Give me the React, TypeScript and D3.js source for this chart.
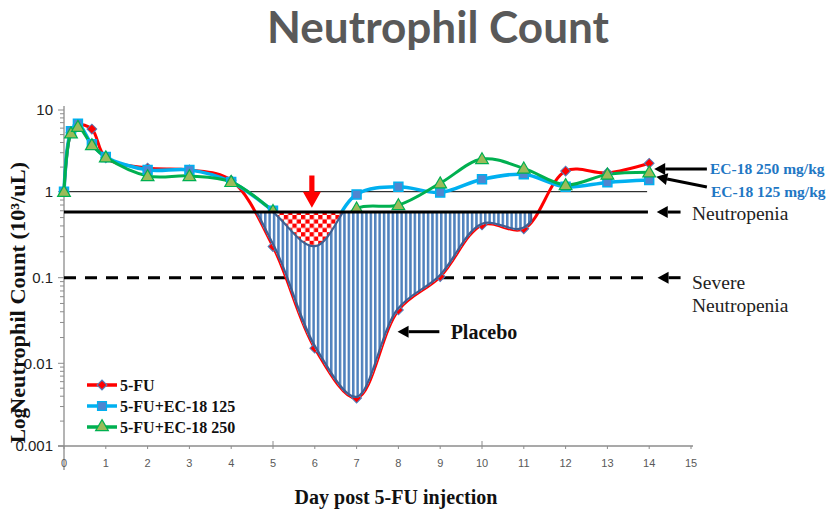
import React from 'react';
import * as d3 from 'd3';

// ---- data ----
const days = [0, 0.167, 0.333, 0.667, 1, 2, 3, 4, 5, 6, 7, 8, 9, 10, 11, 12, 13, 14];
const fu = [1.0, 5.3, 6.6, 5.85, 2.6, 1.95, 1.85, 1.38, 0.23, 0.015, 0.0038, 0.042, 0.103, 0.41, 0.37, 1.79, 1.7, 2.23];
const ec125 = [1.0, 5.5, 6.8, 3.8, 2.66, 1.85, 1.85, 1.32, 0.6, 0.24, 0.93, 1.15, 0.98, 1.42, 1.63, 1.15, 1.3, 1.39];
const ec250 = [1.0, 5.2, 6.25, 3.73, 2.64, 1.56, 1.56, 1.32, 0.6, 0.24, 0.64, 0.7, 1.27, 2.51, 1.93, 1.21, 1.63, 1.73];

const yTickValues = [0.001, 0.01, 0.1, 1, 10];
const yTickLabels = ['0.001', '0.01', '0.1', '1', '10'];
const xTickValues = [0, 1, 2, 3, 4, 5, 6, 7, 8, 9, 10, 11, 12, 13, 14, 15];
const legendLabels = ['5-FU', '5-FU+EC-18 125', '5-FU+EC-18 250'];

const referenceLevel = 1;
const neutropeniaLevel = 0.58;
const severeLevel = 0.1;

const W = 828;
const H = 515;

const RED = '#ff0000';
const CYAN = '#00b0f0';
const GREEN = '#00b050';
const OUTLINE = '#3e5f92';
const HATCH = '#4f81bd';
const SERIF = '"Liberation Serif", "Times New Roman", serif';
const SANS = '"Liberation Sans", Arial, sans-serif';

function Arrow({ x1, y1, x2, y2, w = 3, hl = 11, hw = 6 }: any) {
  const ang = Math.atan2(y2 - y1, x2 - x1);
  const bx = x2 - hl * Math.cos(ang);
  const by = y2 - hl * Math.sin(ang);
  const px = -Math.sin(ang);
  const py = Math.cos(ang);
  return (
    <g>
      <line x1={x1} y1={y1} x2={bx} y2={by} stroke="#000" strokeWidth={w} />
      <polygon
        points={`${x2},${y2} ${bx + px * hw},${by + py * hw} ${bx - px * hw},${by - py * hw}`}
        fill="#000"
      />
    </g>
  );
}

export default function App() {
  const x = d3.scaleLinear().domain([0, 15]).range([64, 691]);
  const y = d3
    .scaleLog()
    .domain([0.001, 0.01, 0.1, 1, 10])
    .range([446, 363.3, 277.7, 191.7, 110]);

  const curve = d3.curveCatmullRom.alpha(0.5);
  const top = 95;
  const bottom = 460;
  const line = (vals: number[]) =>
    d3.line<number>().x((_, i) => x(days[i])).y((v) => y(v)).curve(curve)(vals) as string;
  const areaAbove = (vals: number[]) =>
    d3.area<number>().x((_, i) => x(days[i])).y0(top).y1((v) => y(v)).curve(curve)(vals) as string;
  const areaBelow = (vals: number[]) =>
    d3.area<number>().x((_, i) => x(days[i])).y0(bottom).y1((v) => y(v)).curve(curve)(vals) as string;

  const yN = y(neutropeniaLevel);
  const diamond = d3.symbol(d3.symbolSquare, 48)() as string;
  const square = d3.symbol(d3.symbolSquare, 80)() as string;
  const tri = d3.symbol(d3.symbolTriangle, 70)() as string;

  // minor log ticks
  const minor: number[] = [];
  [0.001, 0.01, 0.1, 1].forEach((b) => {
    for (let k = 2; k <= 9; k++) minor.push(b * k);
  });

  const hatchX0 = x(4);
  const hatchX1 = x(11.2);

  const legendRows = [
    { label: legendLabels[0], color: RED, sym: diamond, fill: RED, stroke: HATCH, rot: 45 },
    { label: legendLabels[1], color: CYAN, sym: square, fill: '#4f86d0', stroke: CYAN, rot: 0 },
    { label: legendLabels[2], color: GREEN, sym: tri, fill: '#9bbb59', stroke: GREEN, rot: 0 },
  ];

  const redArrowX = x(5.93);
  const ra0 = y(1.58);
  const ra1 = y(0.65);

  return (
    <svg
      width={W}
      height={H}
      style={{ position: 'absolute', left: 0, top: 0, background: '#fff' }}
    >
      <defs>
        <pattern id="vhatch" width="4.4" height="10" patternUnits="userSpaceOnUse">
          <rect width="4.4" height="10" fill="#fff" />
          <rect x="0" width="2.5" height="10" fill={HATCH} />
        </pattern>
        <pattern id="checker" width="8.6" height="8.6" patternUnits="userSpaceOnUse">
          <rect width="8.6" height="8.6" fill="#fff" />
          <rect x="0" y="0" width="4.3" height="4.3" fill={RED} />
          <rect x="4.3" y="4.3" width="4.3" height="4.3" fill={RED} />
        </pattern>
        <clipPath id="aboveRed">
          <path d={areaAbove(fu)} />
        </clipPath>
        <clipPath id="belowEC">
          <path d={areaBelow(ec125)} />
        </clipPath>
        <clipPath id="aboveEC">
          <path d={areaAbove(ec125)} />
        </clipPath>
        <clipPath id="hatchRect">
          <rect x={hatchX0} y={yN} width={hatchX1 - hatchX0} height={bottom - yN} />
        </clipPath>
        <clipPath id="checkRect">
          <rect x={x(4.8)} y={yN} width={x(7.2) - x(4.8)} height={bottom - yN} />
        </clipPath>
      </defs>

      {/* Title */}
      <text
        x={438}
        y={43}
        textAnchor="middle"
        fontFamily="Lato, 'Open Sans', sans-serif"
        fontWeight={700}
        fontSize={44}
        fill="#595959"
        textLength={342}
        lengthAdjust="spacingAndGlyphs"
      >
        Neutrophil Count
      </text>

      {/* axes */}
      <line x1={x(0)} y1={y(10) - 4} x2={x(0)} y2={470} stroke="#8c8c8c" strokeWidth={1.3} />
      <line x1={x(0) - 6} y1={y(0.001)} x2={x(15) + 2} y2={y(0.001)} stroke="#8c8c8c" strokeWidth={1.3} />
      {yTickValues.map((v, i) => (
        <g key={'yt' + i}>
          <line x1={x(0) - 6} x2={x(0)} y1={y(v)} y2={y(v)} stroke="#8c8c8c" />
          <text
            x={x(0) - 11}
            y={y(v)}
            dy="0.35em"
            textAnchor="end"
            fontFamily={SANS}
            fontSize={15}
            fill="#222"
          >
            {yTickLabels[i]}
          </text>
        </g>
      ))}
      {minor.map((v, i) => (
        <line key={'ym' + i} x1={x(0) - 4} x2={x(0)} y1={y(v)} y2={y(v)} stroke="#8c8c8c" />
      ))}
      {xTickValues.map((v) => (
        <g key={'xt' + v}>
          <line x1={x(v)} x2={x(v)} y1={y(0.001)} y2={y(0.001) + 3} stroke="#8c8c8c" />
          <text
            x={x(v)}
            y={y(0.001) + 21}
            textAnchor="middle"
            fontFamily={SANS}
            fontSize={11}
            fill="#595959"
          >
            {v}
          </text>
        </g>
      ))}
      {[5, 10].map((v) => (
        <line key={'xu' + v} x1={x(v)} x2={x(v)} y1={y(0.001) - 5} y2={y(0.001)} stroke="#8c8c8c" />
      ))}

      {/* Axis titles */}
      <text
        transform={`translate(25,443) rotate(-90)`}
        fontFamily={SERIF}
        fontWeight={700}
        fontSize={21}
        fill="#111"
      >
        Log
      </text>
      <text
        transform={`translate(25,414) rotate(-90)`}
        fontFamily={SERIF}
        fontWeight={700}
        fontSize={21.5}
        fill="#111"
        textLength={252}
        lengthAdjust="spacingAndGlyphs"
      >
        Neutrophil Count (10³/uL)
      </text>
      <text
        x={396}
        y={504}
        textAnchor="middle"
        fontFamily={SERIF}
        fontWeight={700}
        fontSize={20}
        fill="#111"
      >
        Day post 5-FU injection
      </text>

      {/* reference lines behind */}
      <line x1={x(0)} x2={x(13.95)} y1={y(referenceLevel)} y2={y(referenceLevel)} stroke="#000" strokeWidth={1} />
      <line
        x1={x(0)}
        x2={x(13.95)}
        y1={y(severeLevel)}
        y2={y(severeLevel)}
        stroke="#000"
        strokeWidth={3}
        strokeDasharray="12 9"
      />

      {/* series lines */}
      <path d={line(fu)} fill="none" stroke={RED} strokeWidth={3} />
      <path d={line(ec125)} fill="none" stroke={CYAN} strokeWidth={3.5} />
      <path d={line(ec250)} fill="none" stroke={GREEN} strokeWidth={3} />

      {/* markers */}
      {fu.map((v, i) => (
        <path
          key={'m0' + i}
          d={diamond}
          transform={`translate(${x(days[i])},${y(v)}) rotate(45)`}
          fill={RED}
          stroke={HATCH}
          strokeWidth={1}
        />
      ))}
      {ec125.map((v, i) => (
        <path
          key={'m1' + i}
          d={square}
          transform={`translate(${x(days[i])},${y(v)})`}
          fill="#4f86d0"
          stroke={CYAN}
          strokeWidth={1.5}
        />
      ))}
      {ec250.map((v, i) => (
        <path
          key={'m2' + i}
          d={tri}
          transform={`translate(${x(days[i])},${y(v) + 1})`}
          fill="#9bbb59"
          stroke={GREEN}
          strokeWidth={1.2}
        />
      ))}

      {/* hatched placebo area */}
      <g clipPath="url(#aboveRed)">
        <g clipPath="url(#belowEC)">
          <g clipPath="url(#hatchRect)">
            <rect x={hatchX0} y={yN} width={hatchX1 - hatchX0} height={bottom - yN} fill="url(#vhatch)" />
            <path d={line(fu)} fill="none" stroke={OUTLINE} strokeWidth={4.5} />
            <path d={line(ec125)} fill="none" stroke={OUTLINE} strokeWidth={4.5} />
            <line x1={hatchX1} x2={hatchX1} y1={yN} y2={bottom} stroke={OUTLINE} strokeWidth={4} />
          </g>
        </g>
      </g>

      {/* red checker (EC-18 benefit) */}
      <g clipPath="url(#aboveEC)">
        <g clipPath="url(#checkRect)">
          <rect x={x(4.8)} y={yN} width={x(7.2) - x(4.8)} height={bottom - yN} fill="url(#checker)" />
        </g>
      </g>

      {/* neutropenia line */}
      <line x1={x(0)} x2={x(13.97)} y1={yN} y2={yN} stroke="#000" strokeWidth={3} />

      {/* red arrow */}
      <polygon
        points={`${redArrowX - 2.6},${ra0} ${redArrowX + 2.6},${ra0} ${redArrowX + 2.6},${ra1 - 16} ${redArrowX + 9},${ra1 - 16} ${redArrowX},${ra1} ${redArrowX - 9},${ra1 - 16} ${redArrowX - 2.6},${ra1 - 16}`}
        fill={RED}
      />

      {/* Legend */}
      {legendRows.map((r, i) => {
        const ly = 385 + i * 21;
        return (
          <g key={'lg' + i}>
            <line x1={87} x2={117} y1={ly} y2={ly} stroke={r.color} strokeWidth={3.5} />
            <path
              d={r.sym}
              transform={`translate(102,${ly}) rotate(${r.rot})`}
              fill={r.fill}
              stroke={r.stroke}
              strokeWidth={1.2}
            />
            <text x={120} y={ly} dy="0.35em" fontFamily={SERIF} fontWeight={700} fontSize={16} fill="#111">
              {r.label}
            </text>
          </g>
        );
      })}

      {/* Annotations */}
      <Arrow x1={x(8.98)} y1={y(0.0234)} x2={x(7.98)} y2={y(0.0234)} />
      <text
        x={x(9.25)}
        y={y(0.0234)}
        dy="0.35em"
        fontFamily={SERIF}
        fontWeight={700}
        fontSize={20}
        fill="#111"
      >
        Placebo
      </text>

      <Arrow x1={x(15.38)} y1={y(1.9)} x2={x(14.12)} y2={y(1.9)} />
      <Arrow x1={x(15.38)} y1={y(1.14)} x2={x(14.17)} y2={y(1.52)} />
      <text x={710} y={y(1.9)} dy="0.35em" fontFamily={SERIF} fontWeight={700} fontSize={15.5} fill="#1f77c4">
        EC-18 250 mg/kg
      </text>
      <text x={711} y={y(1.0)} dy="0.35em" fontFamily={SERIF} fontWeight={700} fontSize={15.5} fill="#1f77c4">
        EC-18 125 mg/kg
      </text>

      <Arrow x1={x(14.75)} y1={yN} x2={x(14.18)} y2={yN} />
      <text x={692} y={yN + 1} dy="0.35em" fontFamily={SERIF} fontSize={19.5} fill="#222">
        Neutropenia
      </text>
      <Arrow x1={x(14.75)} y1={y(severeLevel)} x2={x(14.2)} y2={y(severeLevel)} />
      <text x={692} y={y(severeLevel) + 4} dy="0.35em" fontFamily={SERIF} fontSize={19.5} fill="#222">
        Severe
      </text>
      <text x={692} y={y(severeLevel) + 27} dy="0.35em" fontFamily={SERIF} fontSize={19.5} fill="#222">
        Neutropenia
      </text>
    </svg>
  );
}
